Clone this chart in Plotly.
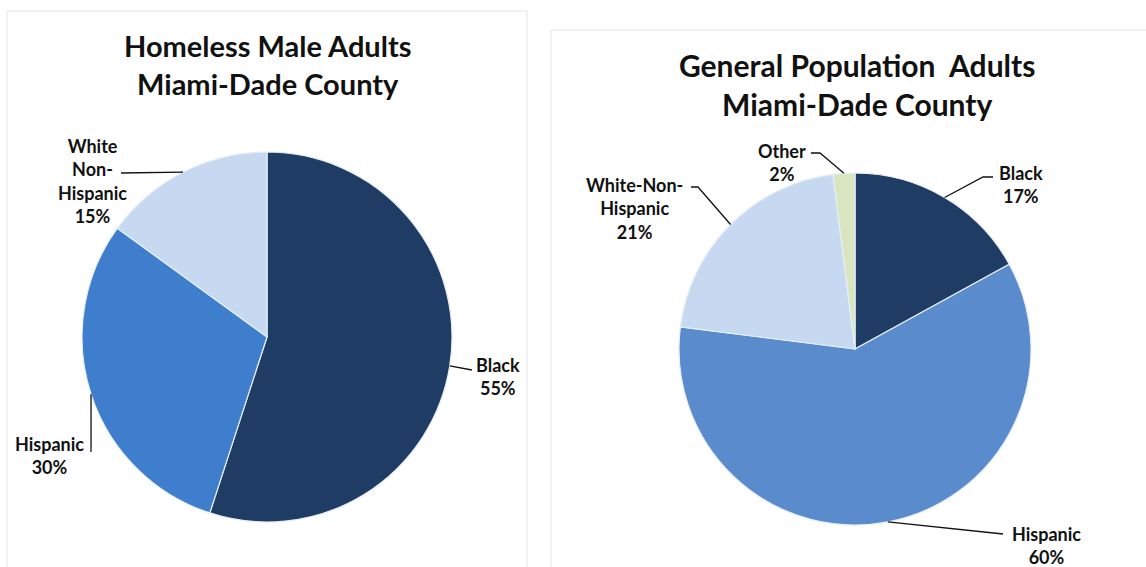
import math
import plotly.graph_objects as go

W, H = 1146, 567

# ---------------- data ----------------
left_labels = ["Black", "Hispanic", "White Non-Hispanic"]
left_values = [55, 30, 15]
left_colors = ["#1F3C64", "#3F7ECC", "#C6D9F1"]

right_labels = ["Black", "Hispanic", "White-Non-Hispanic", "Other"]
right_values = [17, 60, 21, 2]
right_colors = ["#1F3C64", "#5A8BCC", "#C6D9F1", "#D9E5BE"]

left_title = "Homeless Male Adults<br>Miami-Dade County"
right_title = "General Population  Adults<br>Miami-Dade County"

# display text of the outside labels
left_text = ["Black<br>55%", "Hispanic<br>30%", "White<br>Non-<br>Hispanic<br>15%"]
right_text = ["Black<br>17%", "Hispanic<br>60%", "White-Non-<br>Hispanic<br>21%", "Other<br>2%"]

# ---------------- layout geometry (pixels) ----------------
L_CX, L_CY, L_R = 267, 337, 185
R_CX, R_CY, R_R = 855, 349, 176


def px(x):
    return x / W


def py(y):
    return 1 - y / H


def edge_points(values, cx, cy, r):
    """Mid-angle point on the pie rim for each slice (clockwise from 12 o'clock)."""
    tot = sum(values)
    pts, acc = [], 0
    for v in values:
        mid = (acc + v / 2) / tot * 2 * math.pi
        pts.append((cx + r * math.sin(mid), cy - r * math.cos(mid)))
        acc += v
    return pts


FONT = "Lato"

fig = go.Figure()
fig.add_trace(go.Pie(
    labels=left_labels, values=left_values, sort=False, direction="clockwise",
    rotation=0, textinfo="none", hoverinfo="label+percent",
    marker=dict(colors=left_colors, line=dict(color="#E6EEF8", width=1.2)),
    domain=dict(x=[px(L_CX - L_R), px(L_CX + L_R)], y=[py(L_CY + L_R), py(L_CY - L_R)]),
    showlegend=False,
))
fig.add_trace(go.Pie(
    labels=right_labels, values=right_values, sort=False, direction="clockwise",
    rotation=0, textinfo="none", hoverinfo="label+percent",
    marker=dict(colors=right_colors, line=dict(color="#E6EEF8", width=1.2)),
    domain=dict(x=[px(R_CX - R_R), px(R_CX + R_R)], y=[py(R_CY + R_R), py(R_CY - R_R)]),
    showlegend=False,
))

shapes = []
# panel borders
shapes.append(dict(type="rect", xref="paper", yref="paper", x0=px(7), x1=px(527), y0=py(570), y1=py(11),
                   line=dict(color="#E4E4E4", width=1), fillcolor="rgba(0,0,0,0)", layer="below"))
shapes.append(dict(type="rect", xref="paper", yref="paper", x0=px(551), x1=px(1150), y0=py(570), y1=py(30),
                   line=dict(color="#E4E4E4", width=1), fillcolor="rgba(0,0,0,0)", layer="below"))

annotations = []
annotations.append(dict(text="<b>" + left_title.replace("<br>", "</b><br><b>") + "</b>",
                        x=px(267), y=py(65), xref="paper", yref="paper", showarrow=False,
                        font=dict(family=FONT, size=29, color="#111111"), align="center",
                        xanchor="center", yanchor="middle"))
annotations.append(dict(text="<b>" + right_title.replace("<br>", "</b><br><b>") + "</b>",
                        x=px(857), y=py(85), xref="paper", yref="paper", showarrow=False,
                        font=dict(family=FONT, size=30, color="#111111"), align="center",
                        xanchor="center", yanchor="middle"))

# label placement: (text center x, text center y, leader path points after rim point)
left_pts = edge_points(left_values, L_CX, L_CY, L_R)
right_pts = edge_points(right_values, R_CX, R_CY, R_R)

left_place = [
    (498, 376, [(472, 370)]),
    (49, 455, [(91, 452)]),
    (92, 181, [(121, 173)]),
]
right_place = [
    (1021, 184, [(983, 177), (993, 177)]),
    (1046, 545, [(1003, 534)]),
    (634, 209, [(698, 187), (691, 187)]),
    (782, 162, [(820, 153), (811, 153)]),
]


def add_labels(pts, places, texts):
    for (ex, ey), (tx, ty, path), txt in zip(pts, places, texts):
        coords = [(ex, ey)] + path
        d = "M " + " L ".join(f"{px(x):.5f},{py(y):.5f}" for x, y in coords)
        shapes.append(dict(type="path", xref="paper", yref="paper", path=d,
                           line=dict(color="#111111", width=1.3)))
        btxt = "<b>" + txt.replace("<br>", "</b><br><b>") + "</b>"
        annotations.append(dict(text=btxt, x=px(tx), y=py(ty), xref="paper", yref="paper", showarrow=False,
                                font=dict(family=FONT, size=18, color="#111111"), align="center",
                                xanchor="center", yanchor="middle"))


add_labels(left_pts, left_place, left_text)
add_labels(right_pts, right_place, right_text)

fig.update_layout(
    width=W, height=H, margin=dict(l=0, r=0, t=0, b=0),
    paper_bgcolor="white", plot_bgcolor="white",
    shapes=shapes, annotations=annotations,
)

fig.write_html("out.html")
